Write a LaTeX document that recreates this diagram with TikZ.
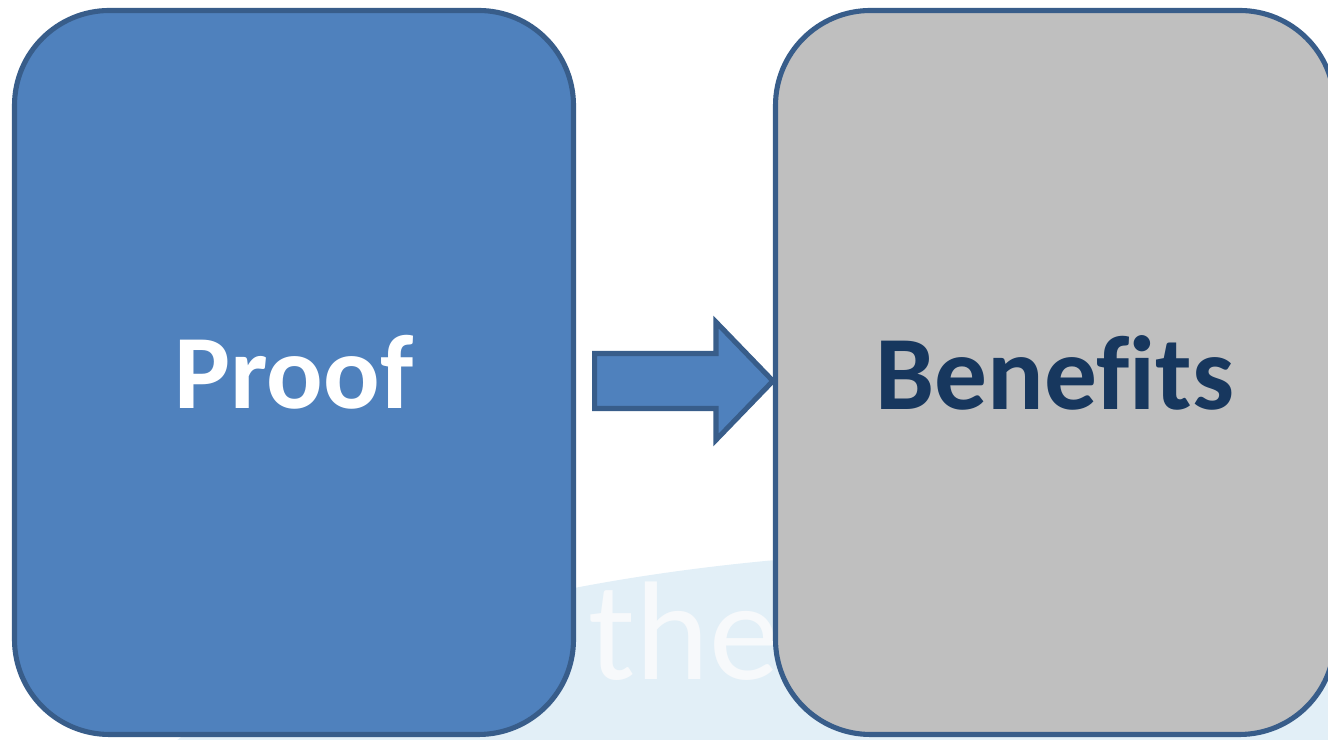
\documentclass[tikz,border=0pt]{standalone}
\usepackage{fontspec}
\setmainfont[Ligatures=NoCommon]{Carlito}
\usepackage{xcolor}
\usepackage{tikz}
\usetikzlibrary{calc,positioning}
\definecolor{boxblue}{HTML}{4F81BD}
\definecolor{edgeblue}{HTML}{385D8A}
\definecolor{boxgrey}{HTML}{BFBFBF}
\definecolor{navy}{HTML}{17375E}
\definecolor{wash}{HTML}{E2EFF7}
\definecolor{ghost}{HTML}{F7F9FB}
\tikzset{
  card/.style={draw=edgeblue, line width=1.45pt, rounded corners=0.95cm,
    minimum width=5.59cm, minimum height=7.24cm, inner sep=0pt,
    font=\bfseries\fontsize{30}{36}\selectfont},
  bluecard/.style={card, fill=boxblue, text=white},
  greycard/.style={card, fill=boxgrey, text=navy},
  blockarrow/.style={draw=edgeblue, fill=boxblue, line width=1.45pt, line join=miter},
  watermark/.style={text=ghost, font=\fontsize{40}{48}\selectfont, inner sep=0pt, anchor=base west},
}

\begin{document}
\begin{tikzpicture}
  \useasboundingbox (0,0) rectangle (13.28,7.40);
  \clip (0,0) rectangle (13.28,7.40);

  % faint backdrop behind the cards
  \fill[wash] (10.0,-1.30) ellipse (9.0 and 3.2);
  \node[watermark] (the) at (5.88,0.60) {the};

  \node[bluecard] (proof) at (2.94,3.675) {Proof};
  \node[greycard] (benefits) at (10.55,3.675) {Benefits};

  % block arrow from Proof to Benefits
  \coordinate (tip) at ($(benefits.west)+(0,-0.085)$);
  \coordinate (tail) at ($(proof.east)+(0.185,-0.085)$);
  \draw[blockarrow] ($(tail)+(0,0.275)$) -- ($(tip)+(-0.57,0.275)$)
    -- ($(tip)+(-0.57,0.59)$) -- (tip) -- ($(tip)+(-0.57,-0.59)$)
    -- ($(tip)+(-0.57,-0.275)$) -- ($(tail)+(0,-0.275)$) -- cycle;
\end{tikzpicture}
\end{document}
